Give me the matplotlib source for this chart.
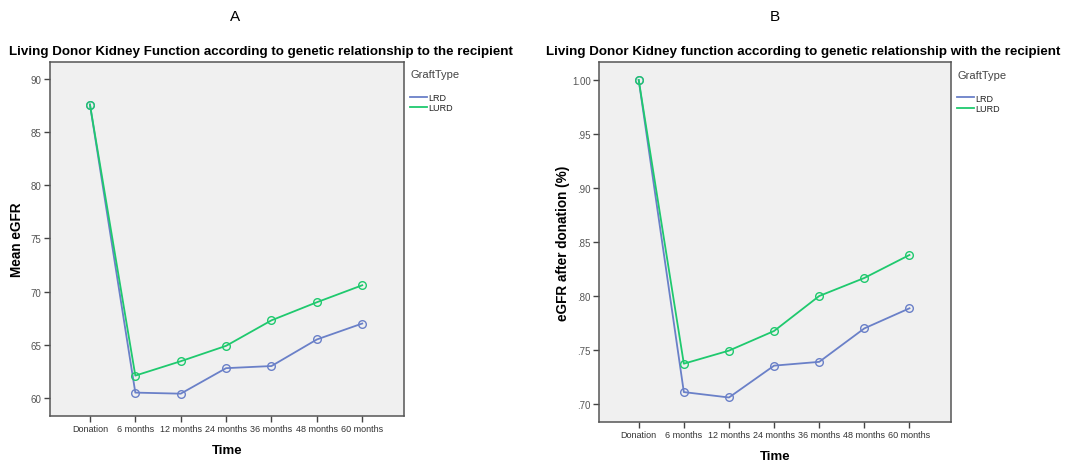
import matplotlib
matplotlib.use("Agg")
import matplotlib.pyplot as plt
from matplotlib.lines import Line2D

time_labels = ["Donation", "6 months", "12 months", "24 months", "36 months", "48 months", "60 months"]
series_names = ["LRD", "LURD"]

# Panel A: Mean eGFR
a_lrd = [87.6, 60.5, 60.4, 62.8, 63.0, 65.5, 67.0]
a_lurd = [87.6, 62.1, 63.45, 64.9, 67.3, 69.0, 70.6]
a_yticks = [60, 65, 70, 75, 80, 85, 90]
a_yticklabels = ["60", "65", "70", "75", "80", "85", "90"]

# Panel B: eGFR after donation (fraction)
b_lrd = [1.00, 0.711, 0.706, 0.7355, 0.739, 0.770, 0.7886]
b_lurd = [1.00, 0.7373, 0.7494, 0.7676, 0.800, 0.8167, 0.838]
b_yticks = [0.70, 0.75, 0.80, 0.85, 0.90, 0.95, 1.00]
b_yticklabels = [".70", ".75", ".80", ".85", ".90", ".95", "1.00"]

colors = ["#6a80c8", "#1fc96e"]
FONT = "Liberation Sans"
plt.rcParams["font.family"] = [FONT, "DejaVu Sans"]

W, H = 1088, 464
fig = plt.figure(figsize=(W/100, H/100), dpi=100)
fig.patch.set_facecolor("white")

axA = fig.add_axes([50/W, (H-417)/H, (404-50)/W, (417-63)/H])
axB = fig.add_axes([599/W, (H-423)/H, (951-599)/W, (423-63)/H])

def style(ax, lrd, lurd, yticks, yticklabels, ylim, ylabel, ylabel_x):
    ax.set_facecolor("#f0f0f0")
    x = list(range(len(time_labels)))
    ax.plot(x, lrd, color=colors[0], lw=1.3, marker="o", ms=5.5, mfc="none", mew=1.0, zorder=3)
    ax.plot(x, lurd, color=colors[1], lw=1.3, marker="o", ms=5.5, mfc="none", mew=1.0, zorder=4)
    ax.set_xlim(-0.88, 6.92)
    ax.set_ylim(*ylim)
    ax.set_xticks(x)
    ax.set_xticklabels(time_labels, fontsize=6.5, color="#333333")
    ax.set_yticks(yticks)
    ax.set_yticklabels(yticklabels, fontsize=7, color="#555555")
    for s in ax.spines.values():
        s.set_color("#555555")
        s.set_linewidth(1.1)
    ax.tick_params(axis="both", direction="out", length=4, width=1, color="#444444", pad=2)
    ax.set_ylabel(ylabel, fontsize=9.8, fontweight="bold")
    ax.yaxis.set_label_coords(ylabel_x, 0.5)
    ax.set_xlabel("Time", fontsize=9.5, fontweight="bold", labelpad=8)
    handles = [Line2D([], [], color=c, lw=1.3) for c in colors]
    leg = ax.legend(handles, series_names, loc="upper left", bbox_to_anchor=(1.0, 0.93),
                    frameon=False, fontsize=6.5, handlelength=1.9, handletextpad=0.05,
                    labelspacing=0.15, borderaxespad=0.3)
    for t in leg.get_texts():
        t.set_color("#222222")
    ax.text(1.018, 0.965, "GraftType", transform=ax.transAxes, fontsize=8,
            color="#444444", ha="left", va="center")

style(axA, a_lrd, a_lurd, a_yticks, a_yticklabels, (58.3, 91.6), "Mean eGFR", (24-50)/354)
style(axB, b_lrd, b_lurd, b_yticks, b_yticklabels, (0.6833, 1.0167),
      "eGFR after donation (%)", (570-599)/352)

fig.text(261/W, 1 - 52/H, "Living Donor Kidney Function according to genetic relationship to the recipient",
         fontsize=9.6, fontweight="bold", ha="center", va="center")
fig.text(803/W, 1 - 52/H, "Living Donor Kidney function according to genetic relationship with the recipient",
         fontsize=9.6, fontweight="bold", ha="center", va="center")

fig.text(235/W, 1 - 17/H, "A", fontsize=11, ha="center", va="center")
fig.text(775/W, 1 - 17/H, "B", fontsize=11, ha="center", va="center")

fig.savefig("out.png", dpi=100)
